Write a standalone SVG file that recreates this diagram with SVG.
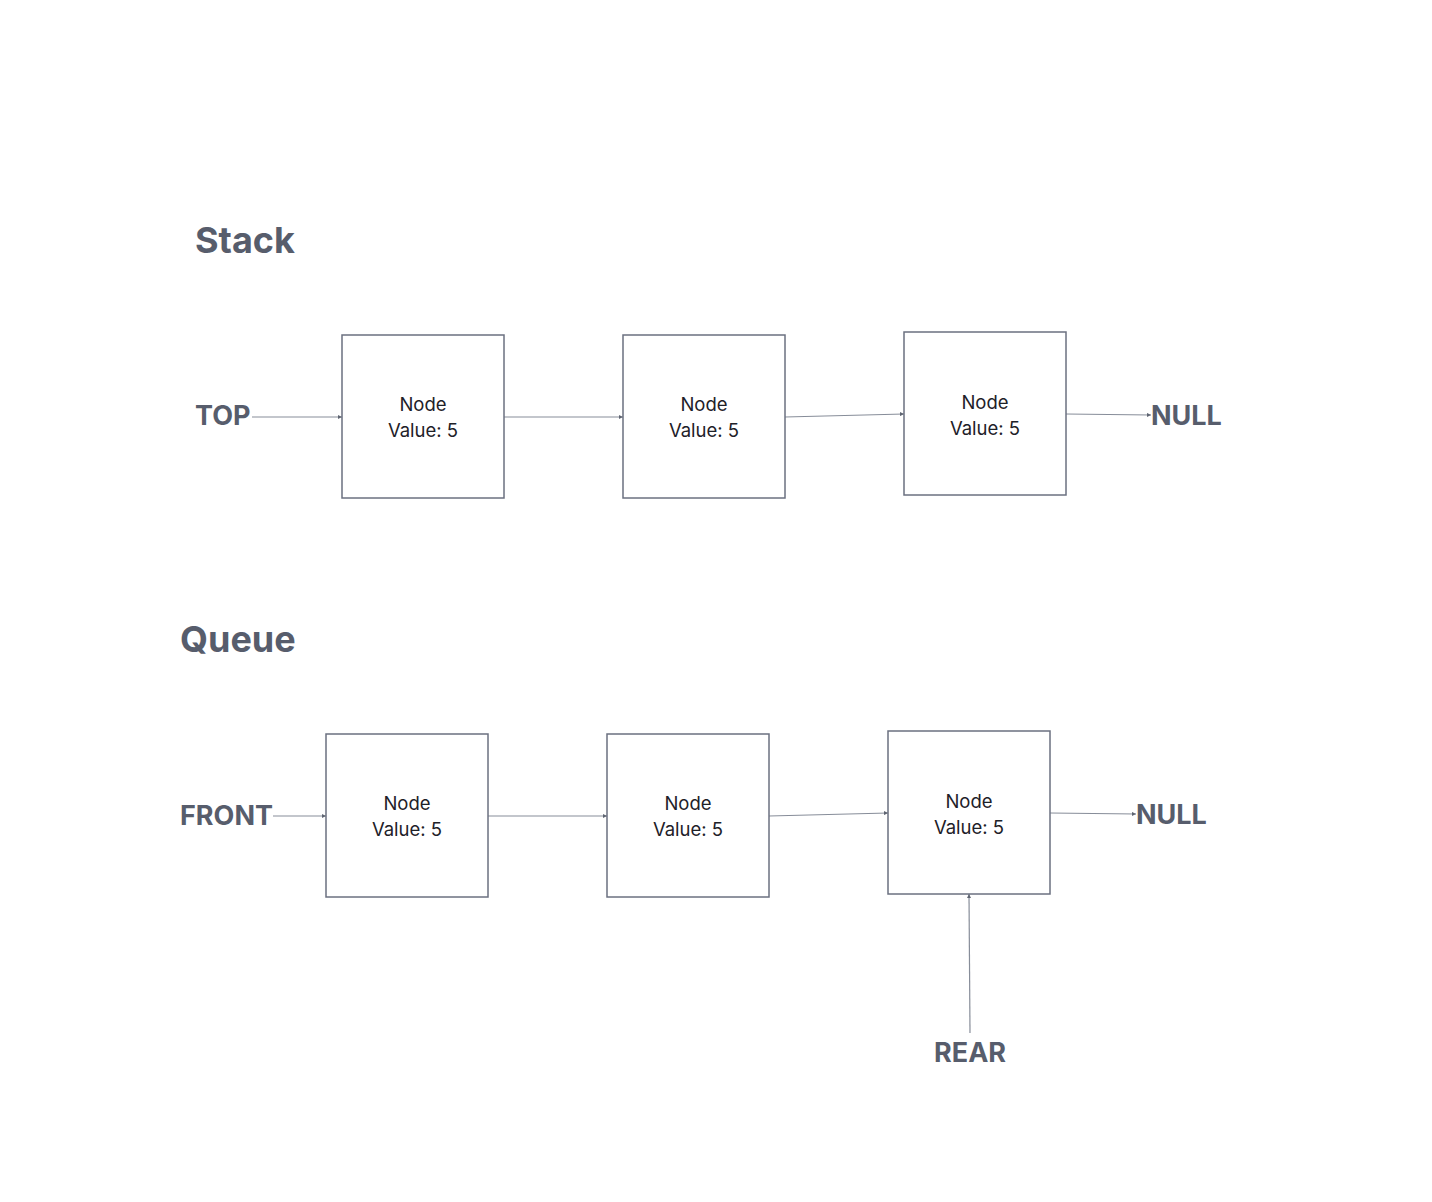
<svg xmlns="http://www.w3.org/2000/svg" width="1432" height="1202" viewBox="0 0 1432 1202">
<defs>
<style>
.box{fill:#ffffff;stroke:#6b7080;stroke-width:1.5}
.nt{font-family:Inter,"Liberation Sans",sans-serif;font-size:18.5px;fill:#1e2128;text-anchor:middle}
.lbl{font-family:Inter,"Liberation Sans",sans-serif;font-weight:bold;font-size:27px;fill:#575d6c}
.ttl{font-family:Inter,"Liberation Sans",sans-serif;font-weight:bold;font-size:36px;fill:#575d6c}
.cn{fill:none;stroke:#878d99;stroke-width:1.2;marker-end:url(#ah)}
</style>
<marker id="ah" viewBox="0 0 6 6" refX="6" refY="3" markerWidth="4" markerHeight="4" orient="auto" markerUnits="userSpaceOnUse">
<path d="M0,0 L6,3 L0,6 z" fill="#5f6572"/>
</marker>
</defs>
<rect width="1432" height="1202" fill="#ffffff"/>
<text class="ttl" x="195" y="253">Stack</text>
<text class="ttl" x="180" y="652">Queue</text>
<g id="connectors">
<line class="cn" x1="252" y1="417" x2="342" y2="417"/>
<line class="cn" x1="504" y1="417" x2="623" y2="417"/>
<line class="cn" x1="785" y1="417" x2="904" y2="414"/>
<line class="cn" x1="1066" y1="414" x2="1151" y2="415"/>
<line class="cn" x1="273" y1="816" x2="326" y2="816"/>
<line class="cn" x1="488" y1="816" x2="607" y2="816"/>
<line class="cn" x1="769" y1="816" x2="888" y2="813"/>
<line class="cn" x1="1050" y1="813" x2="1136" y2="814"/>
<line class="cn" x1="970" y1="1033" x2="969" y2="894"/>
</g>
<g id="top"><text class="lbl" x="195" y="425">TOP</text></g>
<g id="s1"><rect class="box" x="342" y="335" width="162" height="163"/><text class="nt" x="423" y="411">Node</text><text class="nt" x="423" y="437">Value: 5</text></g>
<g id="s2"><rect class="box" x="623" y="335" width="162" height="163"/><text class="nt" x="704" y="411">Node</text><text class="nt" x="704" y="437">Value: 5</text></g>
<g id="s3"><rect class="box" x="904" y="332" width="162" height="163"/><text class="nt" x="985" y="409">Node</text><text class="nt" x="985" y="435">Value: 5</text></g>
<g id="snull"><text class="lbl" x="1151" y="425">NULL</text></g>
<g id="front"><text class="lbl" x="180" y="825">FRONT</text></g>
<g id="q1"><rect class="box" x="326" y="734" width="162" height="163"/><text class="nt" x="407" y="810">Node</text><text class="nt" x="407" y="836">Value: 5</text></g>
<g id="q2"><rect class="box" x="607" y="734" width="162" height="163"/><text class="nt" x="688" y="810">Node</text><text class="nt" x="688" y="836">Value: 5</text></g>
<g id="q3"><rect class="box" x="888" y="731" width="162" height="163"/><text class="nt" x="969" y="808">Node</text><text class="nt" x="969" y="834">Value: 5</text></g>
<g id="qnull"><text class="lbl" x="1136" y="824">NULL</text></g>
<g id="rear"><text class="lbl" x="934" y="1062">REAR</text></g>
</svg>
